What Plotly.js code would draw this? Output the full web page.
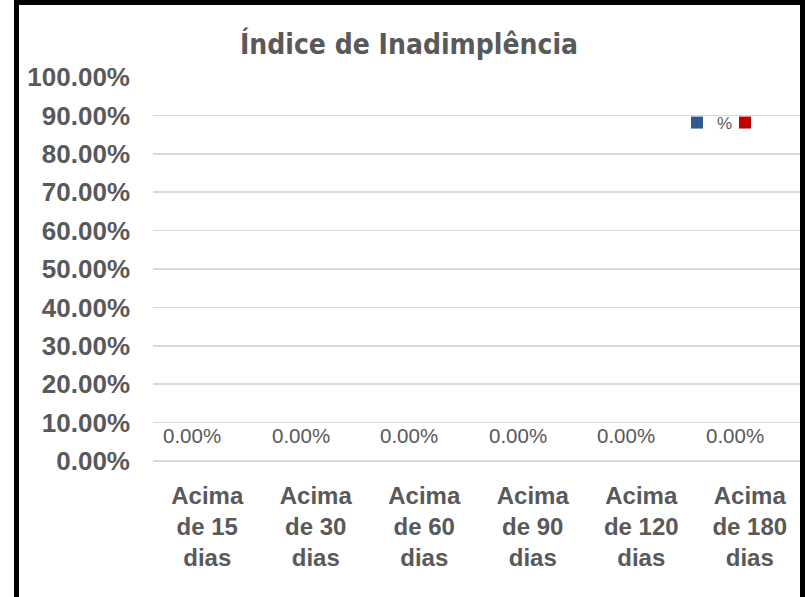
<!DOCTYPE html>
<html>
<head>
<meta charset="utf-8">
<script src="https://cdn.plot.ly/plotly-3.0.1.min.js"></script>
<style>
  html, body { margin: 0; padding: 0; background: #ffffff; overflow: hidden; }
  #wrap { position: relative; width: 805px; height: 597px; }
  #chart { position: absolute; left: 0; top: 0; width: 805px; height: 597px; }
  #frame { position: absolute; left: 14px; top: 0; width: 781px; height: 620px;
           border-left: 5px solid #000; border-top: 5px solid #000; border-right: 5px solid #000;
           pointer-events: none; z-index: 10; }
</style>
</head>
<body>
<div id="wrap">
  <div id="chart"></div>
  <div id="frame"></div>
</div>
<script>
const categories = ["Acima<br>de 15<br>dias", "Acima<br>de 30<br>dias", "Acima<br>de 60<br>dias",
                    "Acima<br>de 90<br>dias", "Acima<br>de 120<br>dias", "Acima<br>de 180<br>dias"];
const seriesBlue = [0, 0, 0, 0, 0, 0];
const seriesRed = [0, 0, 0, 0, 0, 0];
const seriesBlueName = "%";
const seriesRedName = " ";
const titleText = "Índice de Inadimplência";
const yTicks = [0, 0.1, 0.2, 0.3, 0.4, 0.5, 0.6, 0.7, 0.8, 0.9, 1.0];

const grey = "#595959";

const traces = [
  { type: "bar", name: seriesBlueName, x: categories, y: seriesBlue,
    marker: { color: "#2E5A91" }, hoverinfo: "skip" },
  { type: "bar", name: seriesRedName, x: categories, y: seriesRed,
    marker: { color: "#C00000" }, hoverinfo: "skip" }
];

const annotations = categories.map((c, i) => ({
  x: c, y: seriesBlue[i], xref: "x", yref: "y",
  text: (seriesBlue[i] * 100).toFixed(2) + "%",
  showarrow: false, xshift: -15, yshift: 26, yanchor: "middle",
  font: { family: "Liberation Sans, Arial, sans-serif", size: 20.5, color: grey }
}));

const layout = {
  width: 805, height: 597,
  paper_bgcolor: "#ffffff", plot_bgcolor: "#ffffff",
  margin: { l: 153, r: 1, t: 77, b: 136, pad: 0 },
  title: {
    text: titleText, x: 409 / 805, xanchor: "center", xref: "container",
    y: 1 - 44 / 597, yanchor: "middle", yref: "container",
    font: { family: "DejaVu Sans Condensed, Liberation Sans Narrow, sans-serif", size: 28, weight: 700, color: grey }
  },
  barmode: "group",
  bargap: 0.45,
  bargroupgap: 0,
  showlegend: true,
  legend: {
    orientation: "h", x: (677 - 153) / 651, xanchor: "left", y: 1 - (123 - 77) / 384, yanchor: "middle",
    font: { family: "Liberation Sans, Arial, sans-serif", size: 17, color: grey },
    bgcolor: "rgba(0,0,0,0)", traceorder: "normal",
    entrywidth: 3, entrywidthmode: "pixels"
  },
  xaxis: {
    type: "category", showgrid: false, showline: false, zeroline: false, ticks: "",
    tickfont: { family: "Liberation Sans, Arial, sans-serif", size: 24, weight: 700, color: grey },
    ticklabelstandoff: 18, fixedrange: true
  },
  yaxis: {
    range: [0, 1], tickvals: yTicks, tickformat: ".2%",
    showgrid: true, gridcolor: "#D9D9D9", gridwidth: 1.5,
    zeroline: true, zerolinecolor: "#D9D9D9", zerolinewidth: 1.5,
    showline: false, ticks: "",
    tickfont: { family: "Liberation Sans, Arial, sans-serif", size: 26, weight: 700, color: grey },
    ticklabelstandoff: 22, fixedrange: true
  },
  annotations: annotations
};

Plotly.newPlot("chart", traces, layout, { displayModeBar: false, staticPlot: true });
</script>
</body>
</html>
